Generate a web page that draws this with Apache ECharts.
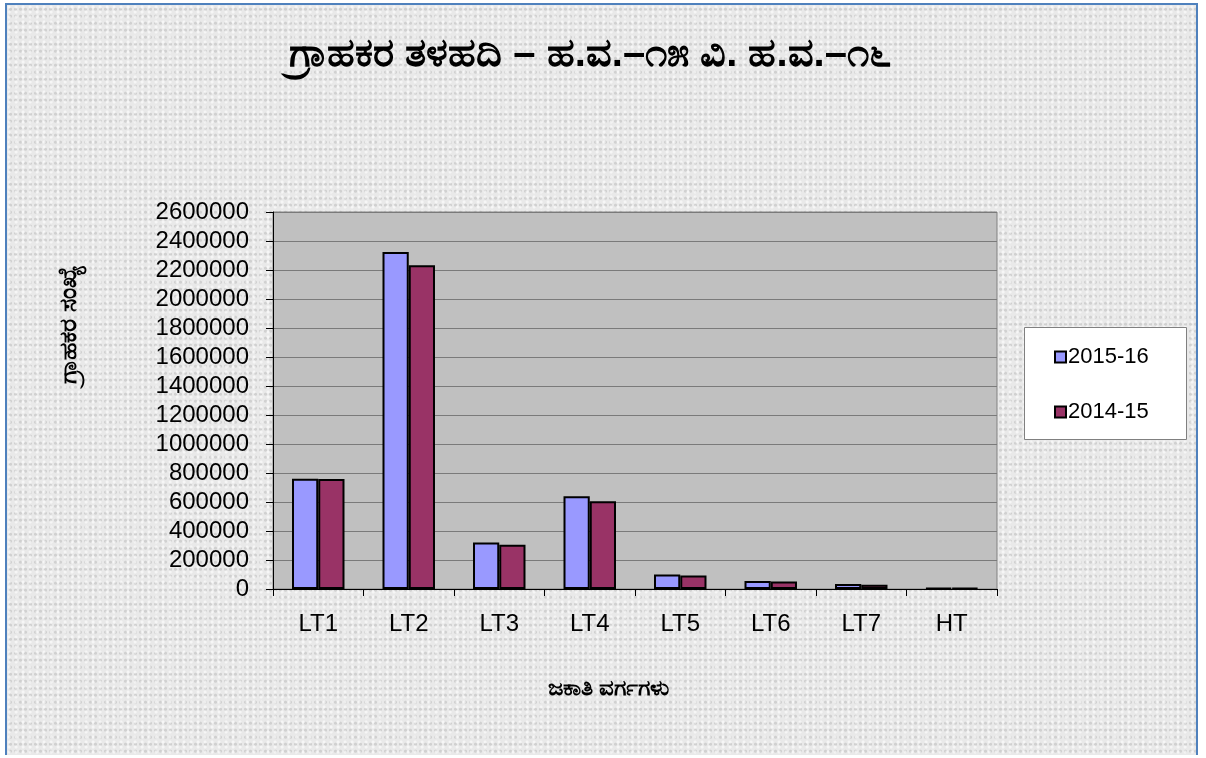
<!DOCTYPE html>
<html><head><meta charset="utf-8">
<script src="https://cdn.jsdelivr.net/npm/echarts@6/dist/echarts.min.js"></script>
<style>
html,body{margin:0;padding:0;background:#fff;}
#wrap{position:absolute;left:5px;top:3px;width:1193px;height:752px;border:2px solid #4f81bd;border-bottom:none;box-sizing:border-box;
background-color:#e9e9e9;
background-image:radial-gradient(circle at 30% 40%, rgba(255,255,255,0.6) 1px, transparent 2px),radial-gradient(circle at 70% 60%, rgba(150,150,150,0.3) 1px, transparent 2px);
background-size:7px 5px, 5px 7px;}
#c{position:absolute;left:-5px;top:-3px;width:1206px;height:758px;}
</style></head>
<body>
<div id="wrap"><div id="c"></div></div>
<script>
const categories = ['LT1','LT2','LT3','LT4','LT5','LT6','LT7','HT'];
const series2015 = [760000, 2324000, 320000, 640000, 100000, 55000, 34000, 6000];
const series2014 = [758000, 2232000, 305000, 605000, 93000, 52000, 30000, 5500];
const seriesNames = ['2015-16','2014-15'];
const yTicks = {min:0, max:2600000, interval:200000};
const titleText = 'ಗ್ರಾಹಕರ ತಳಹದಿ – ಹ.ವ.–೧೫ ವಿ. ಹ.ವ.–೧೬';
const yName = 'ಗ್ರಾಹಕರ ಸಂಖ್ಯೆ';
const xName = 'ಜಕಾತಿ ವರ್ಗಗಳು';

const chart = echarts.init(document.getElementById('c'), null, {renderer:'canvas'});
const font = 'Arial, "Liberation Sans", sans-serif';
chart.setOption({
  backgroundColor:'transparent',
  animation:false,
  title:{text:titleText, left:583, textAlign:'center', top:28,
    textStyle:{fontSize:40, fontWeight:'bold', color:'#000', fontFamily:font}},
  legend:{
    orient:'vertical', left:1052, top:344, padding:0, itemGap:33,
    itemWidth:11, itemHeight:11, icon:'rect',
    textStyle:{fontSize:22, color:'#000', fontFamily:font, padding:[0,0,0,-3]},
    data:seriesNames
  },
  grid:{left:271, top:210, width:724, height:377, show:true, backgroundColor:'#c0c0c0', borderColor:'#808080', borderWidth:1, containLabel:false},
  xAxis:{type:'category', data:categories,
    axisLine:{lineStyle:{color:'#000', width:1}},
    axisTick:{show:true, alignWithLabel:false, length:7, lineStyle:{color:'#000'}},
    axisLabel:{fontSize:24, color:'#000', fontFamily:font, margin:23}
  },
  yAxis:{type:'value', min:yTicks.min, max:yTicks.max, interval:yTicks.interval,
    axisLine:{show:true, lineStyle:{color:'#000', width:1}},
    axisTick:{show:true, length:7, lineStyle:{color:'#000'}},
    axisLabel:{fontSize:24, color:'#000', fontFamily:font, margin:24, formatter:function(v){return String(v);}},
    splitLine:{lineStyle:{color:'#7a7a7a', width:1}}
  },
  graphic:[
    {type:'rect', left:1022, top:325, z:-1, shape:{width:162, height:112},
     style:{fill:'#ffffff', stroke:'#808080', lineWidth:1}},
    {type:'text', left:55, top:264, rotation:Math.PI/2,
     style:{text:yName, fill:'#000', font:'bold 25px Arial, sans-serif'}},
    {type:'text', left:546, top:675,
     style:{text:xName, fill:'#000', font:'bold 23px Arial, sans-serif'}}
  ],
  series:[
    {name:seriesNames[0], type:'bar', data:series2015, barGap:'0%', barCategoryGap:'42%',
     itemStyle:{color:'#9999ff', borderColor:'#000', borderWidth:2}},
    {name:seriesNames[1], type:'bar', data:series2014,
     itemStyle:{color:'#993366', borderColor:'#000', borderWidth:2}}
  ]
});
</script>
</body></html>
